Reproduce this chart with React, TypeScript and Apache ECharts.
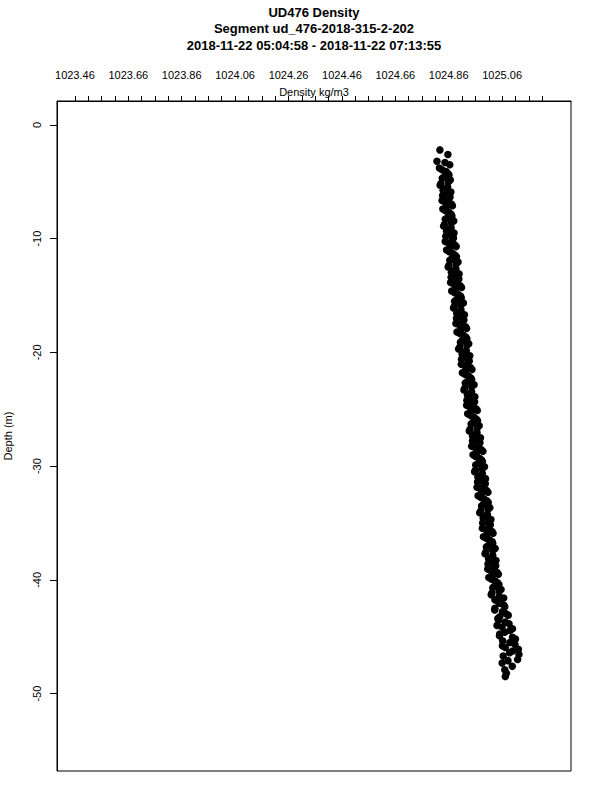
import React, { useEffect, useRef } from "react";
import * as echarts from "echarts";

const titleLines = [
  "UD476 Density",
  "Segment ud_476-2018-315-2-202",
  "2018-11-22 05:04:58 - 2018-11-22 07:13:55",
];

const xLabelValues = [1023.46, 1023.66, 1023.86, 1024.06, 1024.26, 1024.46, 1024.66, 1024.86, 1025.06];
const xTickValues = [
  1023.46, 1023.51, 1023.56, 1023.61, 1023.66, 1023.71, 1023.76, 1023.81, 1023.86, 1023.91,
  1023.96, 1024.01, 1024.06, 1024.11, 1024.16, 1024.21, 1024.26, 1024.31, 1024.36, 1024.41,
  1024.46, 1024.51, 1024.56, 1024.61, 1024.66, 1024.71, 1024.76, 1024.81, 1024.86, 1024.91,
  1024.96, 1025.01, 1025.06, 1025.11, 1025.16, 1025.21,
];
const yTickValues = [0, -10, -20, -30, -40, -50];

// Descending profile samples (depth m, density kg/m3)
const depth = [
  -2.2, -2.6, -3.2, -3.3, -3.5,
  -3.8, -4.1, -4.4, -4.7, -5.0, -5.3, -5.6, -5.9, -6.2, -6.5,
  -6.8, -7.1, -7.4, -7.7, -8.0, -8.3, -8.6, -8.9, -9.2, -9.5,
  -9.8, -10.1, -10.4, -10.7, -11.0, -11.3, -11.6, -11.9, -12.2, -12.5,
  -12.8, -13.1, -13.4, -13.7, -14.0, -14.3, -14.6, -14.9, -15.2, -15.5,
  -15.8, -16.1, -16.4, -16.7, -17.0, -17.3, -17.6, -17.9, -18.2, -18.5,
  -18.8, -19.1, -19.4, -19.7, -20.0, -20.3, -20.6, -20.9, -21.2, -21.5,
  -21.8, -22.1, -22.4, -22.7, -23.0, -23.3, -23.6, -23.9, -24.2, -24.5,
  -24.8, -25.1, -25.4, -25.7, -26.0, -26.3, -26.6, -26.9, -27.2, -27.5,
  -27.8, -28.1, -28.4, -28.7, -29.0, -29.3, -29.6, -29.9, -30.2, -30.5,
  -30.8, -31.1, -31.4, -31.7, -32.0, -32.3, -32.6, -32.9, -33.2, -33.5,
  -33.8, -34.1, -34.4, -34.7, -35.0, -35.3, -35.6, -35.9, -36.2, -36.5,
  -36.8, -37.1, -37.4, -37.7, -38.0, -38.3, -38.6, -38.9, -39.2, -39.5,
  -39.8, -40.1, -40.4, -40.7, -41.0, -41.3, -41.6, -41.9, -42.2, -42.5,
  -42.8, -43.1, -43.4, -43.7, -44.0, -44.3, -44.6, -44.9, -45.2, -45.5,
  -45.8, -46.1, -46.4, -46.7, -47.0, -47.1, -47.3, -47.6, -47.9, -48.2,
  -48.5,
];

const density = [
  1024.827, 1024.857, 1024.816, 1024.846, 1024.864,
  1024.825, 1024.850, 1024.861, 1024.836, 1024.859, 1024.828, 1024.849, 1024.868, 1024.837, 1024.860,
  1024.847, 1024.874, 1024.838, 1024.861, 1024.872, 1024.847, 1024.870, 1024.841, 1024.864, 1024.880,
  1024.849, 1024.873, 1024.860, 1024.888, 1024.852, 1024.875, 1024.889, 1024.864, 1024.888, 1024.858,
  1024.879, 1024.899, 1024.869, 1024.892, 1024.880, 1024.908, 1024.871, 1024.895, 1024.907, 1024.882,
  1024.906, 1024.878, 1024.901, 1024.919, 1024.889, 1024.912, 1024.900, 1024.927, 1024.891, 1024.915,
  1024.928, 1024.904, 1024.928, 1024.897, 1024.919, 1024.939, 1024.908, 1024.932, 1024.920, 1024.947,
  1024.911, 1024.935, 1024.946, 1024.922, 1024.946, 1024.917, 1024.941, 1024.958, 1024.928, 1024.952,
  1024.939, 1024.967, 1024.931, 1024.954, 1024.968, 1024.944, 1024.967, 1024.937, 1024.960, 1024.979,
  1024.949, 1024.972, 1024.960, 1024.988, 1024.951, 1024.975, 1024.986, 1024.961, 1024.985, 1024.957,
  1024.980, 1024.998, 1024.968, 1024.991, 1024.979, 1025.007, 1024.970, 1024.994, 1025.008, 1024.983,
  1025.007, 1024.976, 1024.998, 1025.018, 1024.987, 1025.011, 1024.999, 1025.026, 1024.990, 1025.014,
  1025.025, 1025.001, 1025.025, 1024.996, 1025.020, 1025.037, 1025.007, 1025.031, 1025.018, 1025.046,
  1025.010, 1025.034, 1025.048, 1025.025, 1025.049, 1025.019, 1025.066, 1025.044, 1025.066, 1025.033,
  1025.061, 1025.083, 1025.044, 1025.072, 1025.041, 1025.099, 1025.070, 1025.050, 1025.110, 1025.089,
  1025.061, 1025.121, 1025.088, 1025.064, 1025.118, 1025.082, 1025.060, 1025.098, 1025.070, 1025.076,
  1025.072,
];

// Ascending profile samples (interleaved depths)
const depthUp = [
  -3.95, -4.25, -4.55, -4.85, -5.15, -5.45, -5.75, -6.05, -6.35, -6.65,
  -6.95, -7.25, -7.55, -7.85, -8.15, -8.45, -8.75, -9.05, -9.35, -9.65,
  -9.95, -10.25, -10.55, -10.85, -11.15, -11.45, -11.75, -12.05, -12.35, -12.65,
  -12.95, -13.25, -13.55, -13.85, -14.15, -14.45, -14.75, -15.05, -15.35, -15.65,
  -15.95, -16.25, -16.55, -16.85, -17.15, -17.45, -17.75, -18.05, -18.35, -18.65,
  -18.95, -19.25, -19.55, -19.85, -20.15, -20.45, -20.75, -21.05, -21.35, -21.65,
  -21.95, -22.25, -22.55, -22.85, -23.15, -23.45, -23.75, -24.05, -24.35, -24.65,
  -24.95, -25.25, -25.55, -25.85, -26.15, -26.45, -26.75, -27.05, -27.35, -27.65,
  -27.95, -28.25, -28.55, -28.85, -29.15, -29.45, -29.75, -30.05, -30.35, -30.65,
  -30.95, -31.25, -31.55, -31.85, -32.15, -32.45, -32.75, -33.05, -33.35, -33.65,
  -33.95, -34.25, -34.55, -34.85, -35.15, -35.45, -35.75, -36.05, -36.35, -36.65,
  -36.95, -37.25, -37.55, -37.85, -38.15, -38.45, -38.75, -39.05, -39.35, -39.65,
  -39.95, -40.25, -40.55, -40.85, -41.15, -41.45, -41.75, -42.05, -42.35, -42.65,
  -42.95, -43.25, -43.55, -43.85, -44.15, -44.45, -44.75, -45.05, -45.35, -45.65,
  -45.95, -46.25, -46.55,
];

const densityUp = [
  1024.835, 1024.856, 1024.843, 1024.866, 1024.831, 1024.856, 1024.839, 1024.856, 1024.865, 1024.835,
  1024.870, 1024.851, 1024.848, 1024.869, 1024.856, 1024.879, 1024.844, 1024.869, 1024.852, 1024.869,
  1024.878, 1024.847, 1024.883, 1024.865, 1024.862, 1024.884, 1024.872, 1024.895, 1024.861, 1024.887,
  1024.870, 1024.888, 1024.898, 1024.867, 1024.903, 1024.885, 1024.882, 1024.904, 1024.891, 1024.915,
  1024.881, 1024.906, 1024.890, 1024.908, 1024.917, 1024.887, 1024.923, 1024.904, 1024.902, 1024.924,
  1024.911, 1024.935, 1024.901, 1024.926, 1024.910, 1024.927, 1024.937, 1024.907, 1024.942, 1024.924,
  1024.922, 1024.943, 1024.931, 1024.955, 1024.920, 1024.946, 1024.930, 1024.947, 1024.957, 1024.927,
  1024.962, 1024.944, 1024.942, 1024.963, 1024.951, 1024.974, 1024.940, 1024.966, 1024.949, 1024.967,
  1024.977, 1024.946, 1024.982, 1024.964, 1024.961, 1024.983, 1024.971, 1024.994, 1024.960, 1024.986,
  1024.969, 1024.987, 1024.997, 1024.966, 1025.002, 1024.983, 1024.981, 1025.003, 1024.990, 1025.014,
  1024.980, 1025.005, 1024.989, 1025.007, 1025.016, 1024.986, 1025.022, 1025.003, 1025.001, 1025.023,
  1025.010, 1025.034, 1024.999, 1025.025, 1025.009, 1025.026, 1025.036, 1025.006, 1025.041, 1025.023,
  1025.021, 1025.043, 1025.031, 1025.056, 1025.022, 1025.049, 1025.033, 1025.051, 1025.070, 1025.032,
  1025.073, 1025.051, 1025.047, 1025.086, 1025.060, 1025.089, 1025.051, 1025.099, 1025.062, 1025.108,
  1025.072, 1025.099, 1025.123,
];

const FONT = "'Liberation Sans', Arial, Helvetica, sans-serif";

export default function App() {
  const ref = useRef<HTMLDivElement>(null);
  useEffect(() => {
    if (!ref.current) return;
    const chart = echarts.init(ref.current, null, { renderer: "svg" });
    const pointsDown = depth.map((d, i) => [density[i], d]);
    const pointsUp = depthUp.map((d, i) => [densityUp[i], d]);
    const scatterStyle = {
      type: "scatter",
      symbol: "circle",
      symbolSize: 7.5,
      itemStyle: { color: "#000", opacity: 1 },
    };
    chart.setOption({
      animation: false,
      backgroundColor: "#ffffff",
      textStyle: { fontFamily: FONT, color: "#000" },
      grid: {
        left: 57,
        right: 29,
        top: 101,
        bottom: 29,
        show: true,
        borderColor: "#000",
        borderWidth: 1,
        containLabel: false,
        outerBoundsMode: "none",
      },
      graphic: titleLines.map((t, i) => ({
        type: "text",
        x: 314,
        y: 12 + i * 16.5,
        style: {
          text: t,
          fontFamily: FONT,
          fontWeight: "bold",
          fontSize: 13,
          fill: "#000",
          textAlign: "center",
          textVerticalAlign: "middle",
        },
      })),
      xAxis: {
        type: "value",
        position: "top",
        min: 1023.393,
        max: 1025.318,
        name: "Density kg/m3",
        nameLocation: "middle",
        nameGap: 4,
        nameMoveOverlap: false,
        nameTextStyle: { fontFamily: FONT, fontSize: 11, color: "#000" },
        axisLine: { show: true, onZero: false, lineStyle: { color: "#000", width: 1 } },
        axisTick: {
          show: true,
          inside: false,
          length: 5,
          customValues: xTickValues,
          lineStyle: { color: "#000", width: 1 },
        },
        axisLabel: {
          show: true,
          customValues: xLabelValues,
          formatter: (v: number) => v.toFixed(2),
          fontFamily: FONT,
          fontSize: 11,
          color: "#000",
          margin: 21,
        },
        splitLine: { show: false },
      },
      yAxis: {
        type: "value",
        min: -56.8,
        max: 2.1,
        name: "Depth (m)",
        nameLocation: "middle",
        nameGap: 44,
        nameMoveOverlap: false,
        nameTextStyle: { fontFamily: FONT, fontSize: 11, color: "#000" },
        axisLine: { show: true, onZero: false, lineStyle: { color: "#000", width: 1 } },
        axisTick: {
          show: true,
          inside: false,
          length: 7,
          customValues: yTickValues,
          lineStyle: { color: "#000", width: 1 },
        },
        axisLabel: {
          show: true,
          customValues: yTickValues,
          rotate: 90,
          fontFamily: FONT,
          fontSize: 11,
          color: "#000",
          margin: 15,
        },
        splitLine: { show: false },
      },
      series: [
        { ...scatterStyle, name: "down", data: pointsDown },
        { ...scatterStyle, name: "up", data: pointsUp },
      ],
    });
    return () => chart.dispose();
  }, []);
  return (
    <div
      ref={ref}
      style={{ position: "absolute", left: 0, top: 0, width: 600, height: 800, background: "#fff" }}
    />
  );
}
